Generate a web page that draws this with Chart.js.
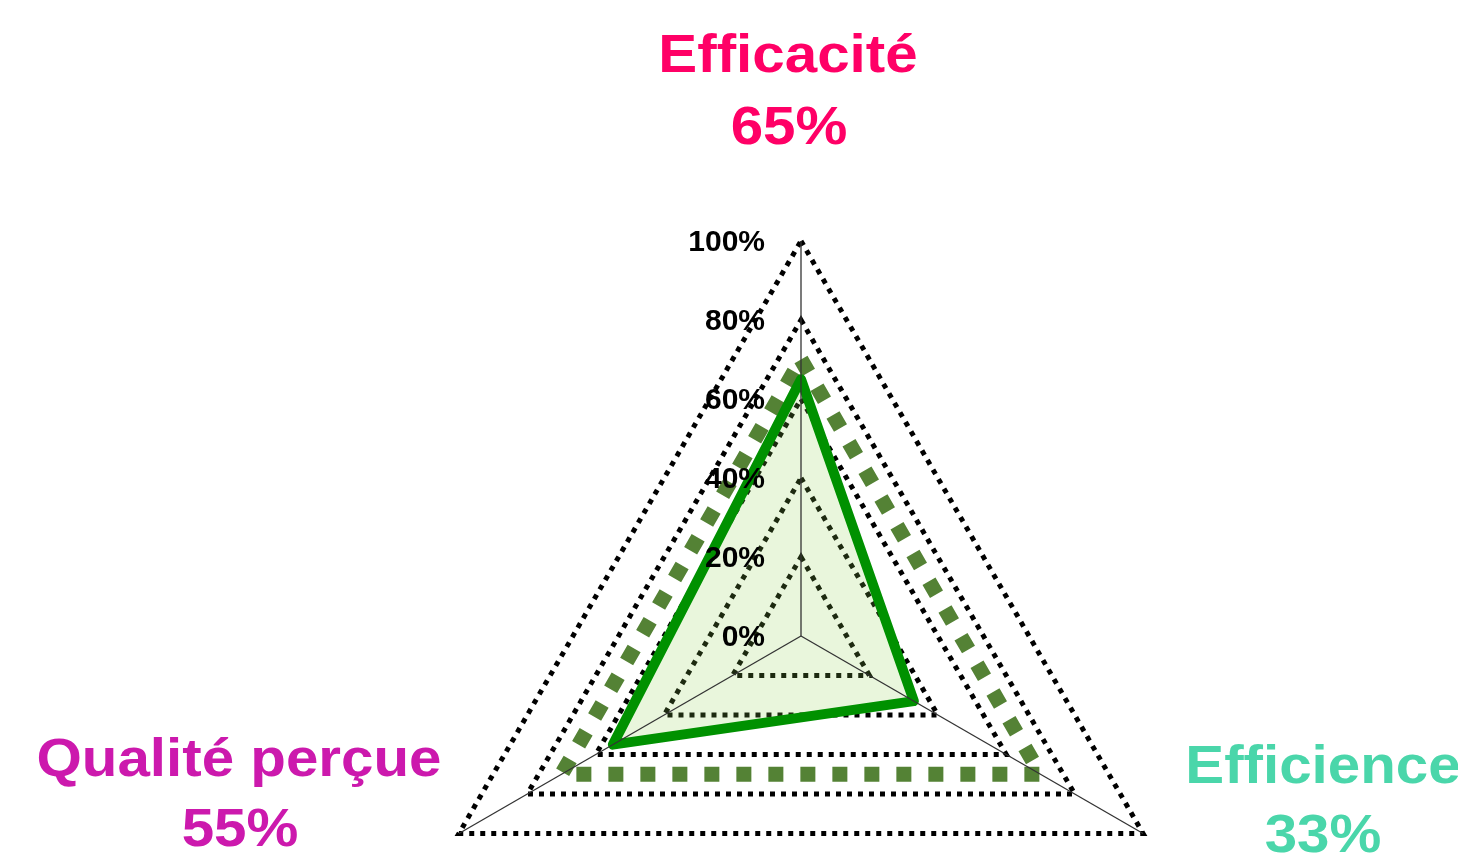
<!DOCTYPE html>
<html>
<head>
<meta charset="utf-8">
<script src="https://cdn.jsdelivr.net/npm/chart.js@4"></script>
<style>
  html, body { margin: 0; padding: 0; background: #fff; overflow: hidden; width: 1458px; height: 854px; }
  #radar { position: absolute; left: 396px; top: 231px; }
  .lbl {
    position: absolute; width: 600px; text-align: center;
    font: bold 54px "Liberation Sans", Arial, sans-serif; line-height: 54px;
    transform: scaleX(1.08); white-space: nowrap; z-index: 2;
  }
</style>
</head>
<body>
<canvas id="radar" width="810" height="810"></canvas>

<div class="lbl" style="left:488px; top:26px; color:#ff0066;">Efficacité</div>
<div class="lbl" style="left:489px; top:98px; color:#ff0066;">65%</div>
<div class="lbl" style="left:-61px; top:730px; color:#cc19ad;">Qualité perçue</div>
<div class="lbl" style="left:-60px; top:800px; color:#cc19ad;">55%</div>
<div class="lbl" style="left:1023px; top:737px; color:#4ad6aa;">Efficience</div>
<div class="lbl" style="left:1023px; top:806px; color:#4ad6aa;">33%</div>

<script>
// axes, clockwise from the top
const axes = ['Efficacité', 'Efficience', 'Qualité perçue'];
const actual = [65, 33, 55];
const target = [70, 70, 70];
const tickValues = [0, 20, 40, 60, 80, 100];

// tick labels sit left of the vertical spoke, spokes go over the data
const radarExtras = {
  id: 'radarExtras',
  afterDatasetsDraw(chart) {
    const scale = chart.scales.r;
    const ctx = chart.ctx;
    ctx.save();
    ctx.strokeStyle = '#333';
    ctx.lineWidth = 1.3;
    axes.forEach((_, i) => {
      const p = scale.getPointPositionForValue(i, scale.max);
      ctx.beginPath();
      ctx.moveTo(scale.xCenter, scale.yCenter);
      ctx.lineTo(p.x, p.y);
      ctx.stroke();
    });
    ctx.font = 'bold 30px "Liberation Sans", Arial, sans-serif';
    ctx.fillStyle = '#000';
    ctx.textAlign = 'right';
    ctx.textBaseline = 'middle';
    tickValues.forEach(v => {
      const d = scale.getDistanceFromCenterForValue(v);
      ctx.fillText(v + '%', scale.xCenter - 36, scale.yCenter - d + 2);
    });
    ctx.restore();
  }
};

new Chart(document.getElementById('radar'), {
  type: 'radar',
  data: {
    labels: axes,
    datasets: [
      {
        label: 'Réel',
        data: actual,
        borderColor: '#009100',
        backgroundColor: 'rgba(146, 208, 80, 0.2)',
        borderWidth: 10,
        borderJoinStyle: 'round',
        fill: true,
        pointRadius: 0
      },
      {
        label: 'Cible',
        data: target,
        borderColor: '#548235',
        borderWidth: 15,
        borderDash: [15, 17],
        fill: false,
        pointRadius: 0
      }
    ]
  },
  options: {
    responsive: false,
    animation: false,
    layout: { padding: 10 },
    plugins: {
      legend: { display: false },
      tooltip: { enabled: false }
    },
    scales: {
      r: {
        min: 0,
        max: 100,
        ticks: { display: false, stepSize: 20 },
        pointLabels: { display: false },
        angleLines: { display: false },
        grid: { color: '#000', lineWidth: 5 },
        border: { dash: [5, 6] }
      }
    }
  },
  plugins: [radarExtras]
});
</script>
</body>
</html>
